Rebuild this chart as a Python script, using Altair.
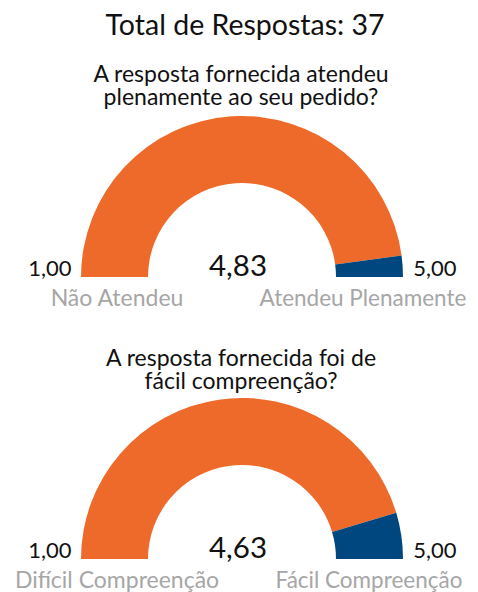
import math
import altair as alt
import pandas as pd

# ---- data ----
total_respostas = 37
questions = [
    "A resposta fornecida atendeu\nplenamente ao seu pedido?",
    "A resposta fornecida foi de\nfácil compreenção?",
]
values = [4.83, 4.63]
scale_min = 1.0
scale_max = 5.0
low_labels = ["Não Atendeu", "Difícil Compreenção"]
high_labels = ["Atendeu Plenamente", "Fácil Compreenção"]

# ---- style / layout ----
FONT = "Lato"
ORANGE = "#EE6A2A"
BLUE = "#00467F"
GRAY = "#A6A6A6"
BLACK = "#111111"
W, H = 462, 584
CX = 234
CY = [269, 551]
QY = [74, 358]
HIGH_X = [355, 361]
R_OUT, R_IN = 161, 94


def fmt(v):
    return f"{v:.2f}".replace(".", ",")


seg_rows = []
txt_rows = []
for i, v in enumerate(values):
    seg_rows.append({"g": i, "seg": "valor", "start": scale_min, "end": v})
    seg_rows.append({"g": i, "seg": "resto", "start": v, "end": scale_max})
    txt_rows.append({
        "g": i,
        "question": questions[i],
        "value": fmt(v),
        "min": fmt(scale_min),
        "max": fmt(scale_max),
        "low": low_labels[i],
        "high": high_labels[i],
    })
segs = pd.DataFrame(seg_rows)
txts = pd.DataFrame(txt_rows)
title_df = pd.DataFrame({"t": [f"Total de Respostas: {total_respostas}"]})

theta_scale = alt.Scale(domain=[scale_min, scale_max], range=[-math.pi / 2, math.pi / 2])
color_scale = alt.Scale(domain=["valor", "resto"], range=[ORANGE, BLUE])

layers = []
layers.append(
    alt.Chart(title_df).mark_text(font=FONT, fontSize=28.5, color=BLACK, baseline="alphabetic")
    .encode(x=alt.value(237), y=alt.value(27), text="t:N")
)

for i in range(len(values)):
    cy = CY[i]
    base_s = alt.Chart(segs).transform_filter(alt.datum.g == i)
    layers.append(
        base_s.mark_arc(radius=R_OUT, radius2=R_IN, stroke=None)
        .encode(
            theta=alt.Theta("start:Q", scale=theta_scale),
            theta2="end:Q",
            color=alt.Color("seg:N", scale=color_scale, legend=None),
            x=alt.value(CX),
            y=alt.value(cy),
        )
    )
    base_t = alt.Chart(txts).transform_filter(alt.datum.g == i)
    layers.append(
        base_t.mark_text(font=FONT, fontSize=23, color=BLACK, baseline="alphabetic",
                         lineBreak="\n", lineHeight=23)
        .encode(x=alt.value(CX - 1), y=alt.value(QY[i]), text="question:N")
    )
    layers.append(
        base_t.mark_text(font=FONT, fontSize=29.5, color=BLACK, baseline="alphabetic")
        .encode(x=alt.value(230), y=alt.value(cy - 1), text="value:N")
    )
    layers.append(
        base_t.mark_text(font=FONT, fontSize=22, color=BLACK, baseline="alphabetic")
        .encode(x=alt.value(42), y=alt.value(cy - 1), text="min:N")
    )
    layers.append(
        base_t.mark_text(font=FONT, fontSize=22, color=BLACK, baseline="alphabetic")
        .encode(x=alt.value(427), y=alt.value(cy - 1), text="max:N")
    )
    layers.append(
        base_t.mark_text(font=FONT, fontSize=23, color=GRAY, baseline="alphabetic")
        .encode(x=alt.value(109), y=alt.value(cy + 29), text="low:N")
    )
    layers.append(
        base_t.mark_text(font=FONT, fontSize=22.5, color=GRAY, baseline="alphabetic")
        .encode(x=alt.value(HIGH_X[i]), y=alt.value(cy + 29), text="high:N")
    )

chart = (
    alt.layer(*layers)
    .properties(width=W, height=H, autosize=alt.AutoSizeParams(type="none"), padding=0)
    .configure_view(stroke=None)
)

chart.save("out.html", embed_options={"renderer": "svg", "actions": False})
